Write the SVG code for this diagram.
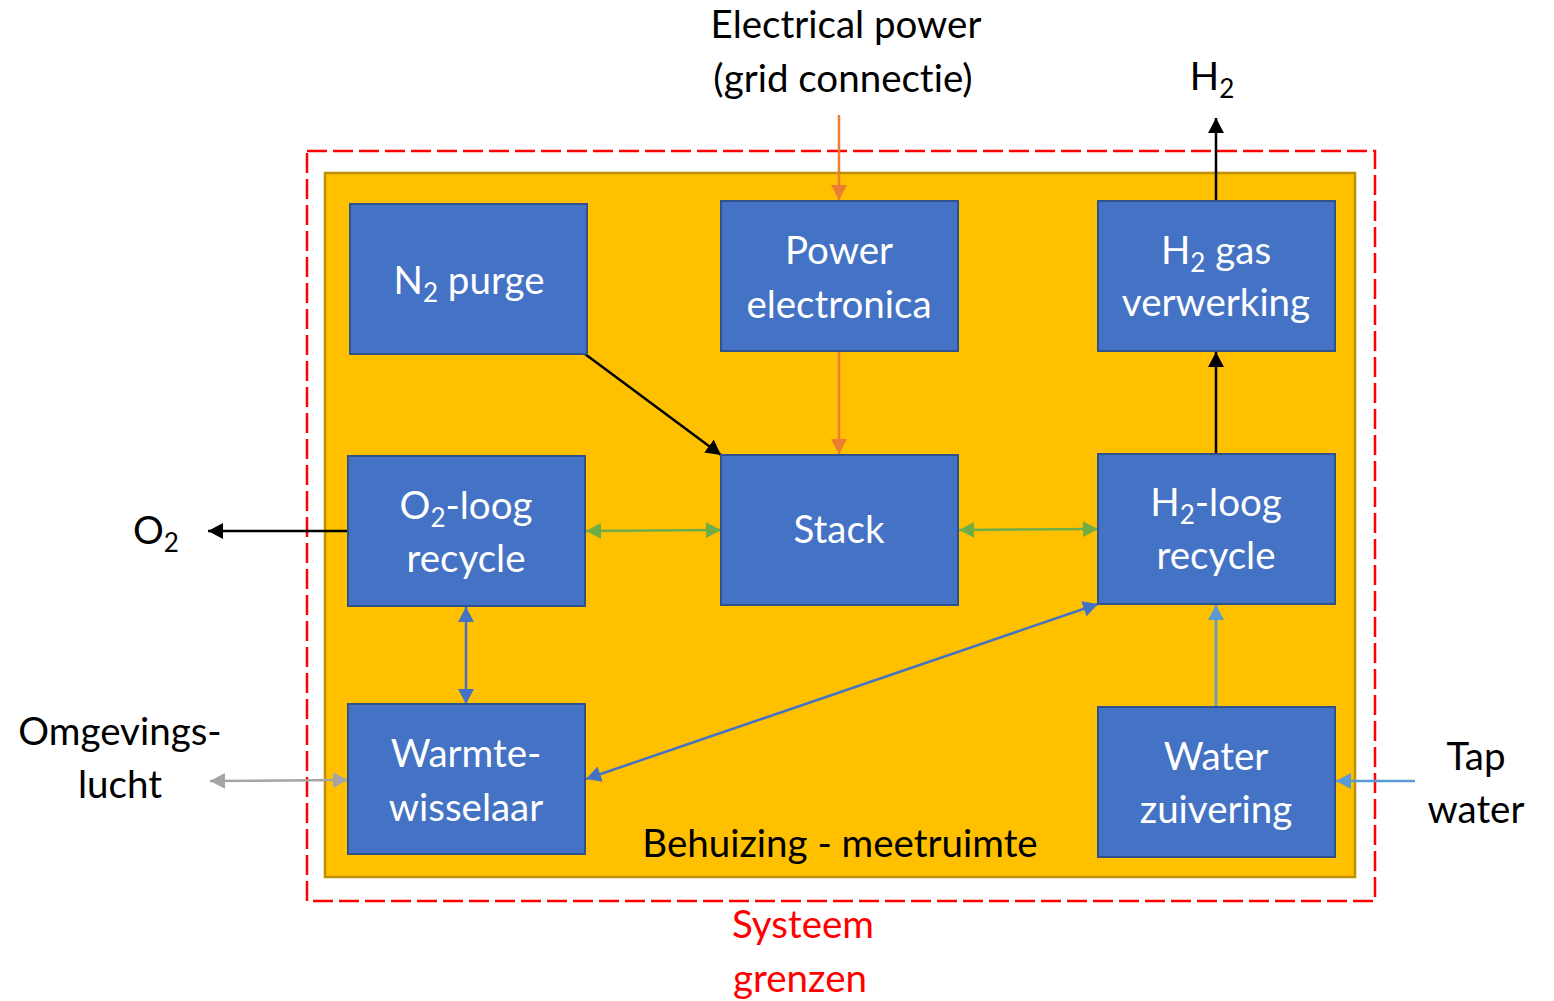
<svg xmlns="http://www.w3.org/2000/svg" width="1554" height="1001" viewBox="0 0 1554 1001">
<style>
text{font-family:Lato,"Open Sans","Liberation Sans",sans-serif;font-size:38.5px;text-anchor:middle;font-variant-ligatures:none;font-feature-settings:"liga" 0,"dlig" 0}
.w{fill:#ffffff}
.k{fill:#000000}
.r{fill:#ff0000}
.box{fill:#4472C4;stroke:#2F528F;stroke-width:2}
.sub{font-size:26px}
.c{fill:none;stroke-width:2.5}
</style>
<defs>
<marker id="mk" markerUnits="userSpaceOnUse" markerWidth="18" markerHeight="18" refX="15" refY="8" orient="auto-start-reverse"><path d="M0,0 L15,8 L0,16 z" fill="#000"/></marker>
<marker id="mo" markerUnits="userSpaceOnUse" markerWidth="18" markerHeight="18" refX="15" refY="8" orient="auto-start-reverse"><path d="M0,0 L15,8 L0,16 z" fill="#ED7D31"/></marker>
<marker id="mg" markerUnits="userSpaceOnUse" markerWidth="18" markerHeight="18" refX="15" refY="8" orient="auto-start-reverse"><path d="M0,0 L15,8 L0,16 z" fill="#70AD47"/></marker>
<marker id="mb" markerUnits="userSpaceOnUse" markerWidth="18" markerHeight="18" refX="15" refY="8" orient="auto-start-reverse"><path d="M0,0 L15,8 L0,16 z" fill="#4472C4"/></marker>
<marker id="ml" markerUnits="userSpaceOnUse" markerWidth="18" markerHeight="18" refX="15" refY="8" orient="auto-start-reverse"><path d="M0,0 L15,8 L0,16 z" fill="#5B9BD5"/></marker>
<marker id="ma" markerUnits="userSpaceOnUse" markerWidth="18" markerHeight="18" refX="15" refY="8" orient="auto-start-reverse"><path d="M0,0 L15,8 L0,16 z" fill="#A5A5A5"/></marker>
</defs>
<rect width="1554" height="1001" fill="#ffffff"/>
<g id="systeem-grens">
<rect x="307" y="151" width="1068" height="750" fill="none" stroke="#ff0000" stroke-width="2.5" stroke-dasharray="20,6"/>
</g>
<g id="behuizing">
<rect x="325" y="173" width="1030" height="704" fill="#FFC000" stroke="#BF9000" stroke-width="2.5"/>
<text class="k" x="840" y="857">Behuizing - meetruimte</text>
</g>
<g id="connectors">
<line class="c" x1="839" y1="115" x2="839" y2="200" stroke="#ED7D31" marker-end="url(#mo)"/>
<line class="c" x1="839" y1="351" x2="839" y2="454" stroke="#ED7D31" marker-end="url(#mo)"/>
<line class="c" x1="585" y1="354" x2="721" y2="455" stroke="#000" marker-end="url(#mk)"/>
<line class="c" x1="1216" y1="454" x2="1216" y2="352" stroke="#000" marker-end="url(#mk)"/>
<line class="c" x1="1216" y1="201" x2="1216" y2="118" stroke="#000" marker-end="url(#mk)"/>
<line class="c" x1="348" y1="531" x2="208" y2="531" stroke="#000" marker-end="url(#mk)"/>
<line class="c" x1="586" y1="531" x2="721" y2="530" stroke="#70AD47" marker-start="url(#mg)" marker-end="url(#mg)"/>
<line class="c" x1="959" y1="530" x2="1098" y2="529" stroke="#70AD47" marker-start="url(#mg)" marker-end="url(#mg)"/>
<line class="c" x1="466" y1="607" x2="466" y2="704" stroke="#4472C4" marker-start="url(#mb)" marker-end="url(#mb)"/>
<line class="c" x1="1098" y1="604" x2="586" y2="779" stroke="#4472C4" marker-start="url(#mb)" marker-end="url(#mb)"/>
<line class="c" x1="1216" y1="707" x2="1216" y2="605" stroke="#5B9BD5" marker-end="url(#ml)"/>
<line class="c" x1="1415" y1="781" x2="1336" y2="781" stroke="#5B9BD5" marker-end="url(#ml)"/>
<line class="c" x1="210" y1="781" x2="348" y2="780" stroke="#A5A5A5" marker-start="url(#ma)" marker-end="url(#ma)"/>
</g>
<g id="n2-purge">
<rect class="box" x="350" y="204" width="237" height="150"/>
<text class="w" x="469" y="294">N<tspan class="sub" dy="8">2</tspan><tspan dy="-8"> purge</tspan></text>
</g>
<g id="power-electronica">
<rect class="box" x="721" y="201" width="237" height="150"/>
<text class="w" x="839" y="264">Power</text>
<text class="w" x="839" y="318">electronica</text>
</g>
<g id="h2-gas-verwerking">
<rect class="box" x="1098" y="201" width="237" height="150"/>
<text class="w" x="1216" y="264">H<tspan class="sub" dy="8">2</tspan><tspan dy="-8"> gas</tspan></text>
<text class="w" x="1216" y="316">verwerking</text>
</g>
<g id="o2-loog-recycle">
<rect class="box" x="348" y="456" width="237" height="150"/>
<text class="w" x="466" y="519">O<tspan class="sub" dy="8">2</tspan><tspan dy="-8">-loog</tspan></text>
<text class="w" x="466" y="572">recycle</text>
</g>
<g id="stack">
<rect class="box" x="721" y="455" width="237" height="150"/>
<text class="w" x="839" y="543">Stack</text>
</g>
<g id="h2-loog-recycle">
<rect class="box" x="1098" y="454" width="237" height="150"/>
<text class="w" x="1216" y="516">H<tspan class="sub" dy="8">2</tspan><tspan dy="-8">-loog</tspan></text>
<text class="w" x="1216" y="569">recycle</text>
</g>
<g id="warmtewisselaar">
<rect class="box" x="348" y="704" width="237" height="150"/>
<text class="w" x="466" y="767">Warmte-</text>
<text class="w" x="466" y="821">wisselaar</text>
</g>
<g id="water-zuivering">
<rect class="box" x="1098" y="707" width="237" height="150"/>
<text class="w" x="1216" y="770">Water</text>
<text class="w" x="1216" y="823">zuivering</text>
</g>
<g id="labels">
<text class="k" x="846" y="38">Electrical power</text>
<text class="k" x="843" y="92">(grid connectie)</text>
<text class="k" x="1212" y="90">H<tspan class="sub" dy="8">2</tspan></text>
<text class="k" x="156" y="544">O<tspan class="sub" dy="8">2</tspan></text>
<text class="k" x="120" y="745">Omgevings-</text>
<text class="k" x="120" y="798">lucht</text>
<text class="k" x="1476" y="770">Tap</text>
<text class="k" x="1476" y="823">water</text>
<text class="r" x="803" y="938">Systeem</text>
<text class="r" x="800" y="992">grenzen</text>
</g>
</svg>
